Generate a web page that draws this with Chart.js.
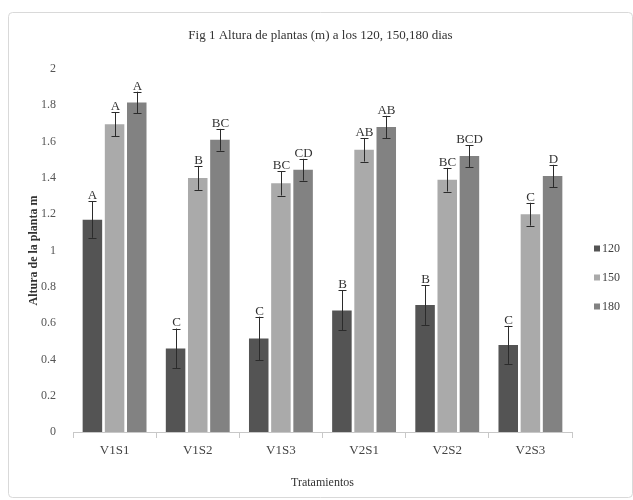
<!DOCTYPE html>
<html>
<head>
<meta charset="utf-8">
<script src="https://cdn.jsdelivr.net/npm/chart.js@4/dist/chart.umd.min.js"></script>
<style>
  html, body { margin: 0; padding: 0; background: #fff; }
  #wrap { width: 633px; height: 500px; position: relative; }
</style>
</head>
<body>
<div id="wrap"><canvas id="c" width="633" height="500"></canvas></div>
<script>
// Treatments on the x axis
const categories = ['V1S1', 'V1S2', 'V1S3', 'V2S1', 'V2S2', 'V2S3'];

// Mean plant height (m) at each sampling date
const height120 = [1.17, 0.46, 0.515, 0.67, 0.70, 0.48];
const height150 = [1.695, 1.40, 1.37, 1.555, 1.39, 1.20];
const height180 = [1.815, 1.61, 1.445, 1.68, 1.52, 1.41];

// Error (±) for each mean
const err120 = [0.10, 0.11, 0.12, 0.11, 0.11, 0.105];
const err150 = [0.066, 0.066, 0.067, 0.065, 0.065, 0.063];
const err180 = [0.06, 0.06, 0.06, 0.062, 0.06, 0.062];

// Significance letters above each bar
const letters120 = ['A', 'C', 'C', 'B', 'B', 'C'];
const letters150 = ['A', 'B', 'BC', 'AB', 'BC', 'C'];
const letters180 = ['A', 'BC', 'CD', 'AB', 'BCD', 'D'];

const seriesNames = ['120', '150', '180'];
const yTicks = [0, 0.2, 0.4, 0.6, 0.8, 1, 1.2, 1.4, 1.6, 1.8, 2];
const chartTitle = 'Fig 1 Altura de plantas (m) a los 120, 150,180 dias';

const SERIF = '"Liberation Serif", "DejaVu Serif", serif';

// Rounded light frame around the whole chart, plus the centred title
const framePlugin = {
  id: 'frame',
  beforeDraw(chart) {
    const ctx = chart.ctx;
    ctx.save();
    ctx.fillStyle = '#ffffff';
    ctx.fillRect(0, 0, chart.width, chart.height);
    ctx.strokeStyle = '#d9d9d9';
    ctx.lineWidth = 1;
    ctx.beginPath();
    ctx.roundRect(8.5, 12.5, chart.width - 9, chart.height - 15, 4);
    ctx.stroke();
    ctx.fillStyle = '#333333';
    ctx.font = '13px ' + SERIF;
    ctx.textAlign = 'center';
    ctx.textBaseline = 'middle';
    ctx.fillText(chartTitle, (chart.width + 8) / 2, 36);
    ctx.restore();
  }
};

// Error bars and letter annotations, placed through the scales
const errorLabelPlugin = {
  id: 'errorLabels',
  afterDatasetsDraw(chart) {
    const ctx = chart.ctx;
    const y = chart.scales.y;
    chart.data.datasets.forEach((ds, di) => {
      const meta = chart.getDatasetMeta(di);
      meta.data.forEach((bar, i) => {
        const v = ds.data[i];
        const e = ds.errors[i];
        const yTop = y.getPixelForValue(v + e);
        const yBot = y.getPixelForValue(v - e);
        const x = Math.round(bar.x) + 0.5;
        ctx.save();
        ctx.strokeStyle = '#2b2b2b';
        ctx.lineWidth = 1;
        ctx.beginPath();
        ctx.moveTo(x, yTop);
        ctx.lineTo(x, yBot);
        ctx.moveTo(x - 4, Math.round(yTop) + 0.5);
        ctx.lineTo(x + 4, Math.round(yTop) + 0.5);
        ctx.moveTo(x - 4, Math.round(yBot) + 0.5);
        ctx.lineTo(x + 4, Math.round(yBot) + 0.5);
        ctx.stroke();
        ctx.fillStyle = '#333333';
        ctx.font = '13px ' + SERIF;
        ctx.textAlign = 'center';
        ctx.textBaseline = 'bottom';
        ctx.fillText(ds.letters[i], x, yTop + 1);
        ctx.restore();
      });
    });
  }
};

// Legend drawn at the right of the plot area
const sideLegendPlugin = {
  id: 'sideLegend',
  afterDraw(chart) {
    const ctx = chart.ctx;
    const area = chart.chartArea;
    const x0 = area.right + 22;
    const yc = (area.top + area.bottom) / 2 + 27;
    const gap = 29;
    chart.data.datasets.forEach((ds, i) => {
      const yy = yc + (i - 1) * gap;
      ctx.save();
      ctx.fillStyle = ds.backgroundColor;
      ctx.fillRect(x0, yy - 3, 6, 6);
      ctx.fillStyle = '#404040';
      ctx.font = '12px ' + SERIF;
      ctx.textAlign = 'left';
      ctx.textBaseline = 'middle';
      ctx.fillText(ds.label, x0 + 8, yy);
      ctx.restore();
    });
  }
};

new Chart(document.getElementById('c'), {
  type: 'bar',
  data: {
    labels: categories,
    datasets: [
      { label: seriesNames[0], data: height120, errors: err120, letters: letters120, backgroundColor: '#545454' },
      { label: seriesNames[1], data: height150, errors: err150, letters: letters150, backgroundColor: '#aaaaaa' },
      { label: seriesNames[2], data: height180, errors: err180, letters: letters180, backgroundColor: '#828282' }
    ]
  },
  options: {
    responsive: false,
    animation: false,
    devicePixelRatio: 1,
    layout: { padding: { left: 27, right: 61, top: 69, bottom: 10 } },
    datasets: { bar: { categoryPercentage: 0.8, barPercentage: 0.88 } },
    plugins: {
      legend: { display: false },
      tooltip: { enabled: false },
      title: { display: false }
    },
    scales: {
      x: {
        grid: { display: true, drawOnChartArea: false, tickLength: 6, color: '#c8c8c8', offset: true },
        border: { display: true, color: '#c8c8c8' },
        ticks: { color: '#444444', font: { family: SERIF, size: 13 }, padding: 5 },
        title: {
          display: true, text: 'Tratamientos', color: '#333333',
          font: { family: SERIF, size: 12 }, padding: { top: 6, bottom: 0 }
        },
        afterFit(scale) { scale.height = 58; }
      },
      y: {
        min: 0, max: 2,
        afterBuildTicks(scale) { scale.ticks = yTicks.map(v => ({ value: v })); },
        grid: { display: false },
        border: { display: false },
        ticks: {
          color: '#555555', font: { family: SERIF, size: 12 }, padding: 9,
          callback: v => String(Number(v.toFixed(1)))
        },
        title: {
          display: true, text: 'Altura de la planta m', color: '#333333',
          font: { family: SERIF, size: 12, weight: 'bold' }, padding: { top: 0, bottom: 4 }
        },
        afterFit(scale) { scale.width = 46; }
      }
    }
  },
  plugins: [framePlugin, errorLabelPlugin, sideLegendPlugin]
});
</script>
</body>
</html>
